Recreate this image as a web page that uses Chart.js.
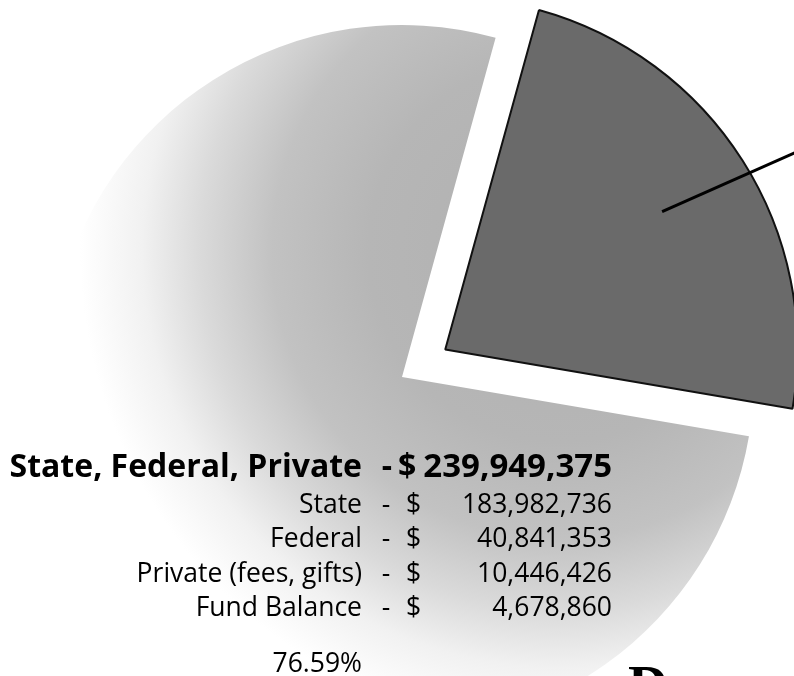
<!DOCTYPE html>
<html>
<head>
<meta charset="utf-8">
<title>Revenue sources</title>
<script src="https://cdn.jsdelivr.net/npm/chart.js@4.4.0/dist/chart.umd.min.js"></script>
<style>
  html, body { margin: 0; padding: 0; background: #fff; }
  #wrap { position: relative; width: 794px; height: 676px; overflow: hidden; }
</style>
</head>
<body>
<div id="wrap"><canvas id="revenuePie" width="794" height="676"></canvas></div>
<script>
// pie shares (percent)
var sliceLabels = ['State, Federal, Private', 'Other'];
var sliceShares = [76.59, 23.41];

// breakdown of the big slice
var sourceLabels = ['State', 'Federal', 'Private (fees, gifts)', 'Fund Balance'];
var sourceAmounts = [183982736, 40841353, 10446426, 4678860];

var sliceColors = ['#c0c0c0', '#6a6a6a'];

function money(n) {
  return n.toLocaleString('en-US');
}

// big slice is shaded from the upper right and fades to white at the far side
function sliceFill(context) {
  if (context.dataIndex !== 0) return sliceColors[1];
  var c = context.chart.ctx;
  var g = c.createRadialGradient(560, 250, 0, 560, 250, 480);
  g.addColorStop(0, '#b0b0b0');
  g.addColorStop(0.4, '#b6b6b6');
  g.addColorStop(0.6, '#c2c2c2');
  g.addColorStop(0.75, '#dadada');
  g.addColorStop(0.87, '#f1f1f1');
  g.addColorStop(1, '#ffffff');
  return g;
}

// line pointing from the pulled-out slice to its label further right
var leaderLine = {
  id: 'leaderLine',
  afterDatasetsDraw: function(chart) {
    var ctx = chart.ctx;
    var arc = chart.getDatasetMeta(0).data[1];
    var p = arc.getProps(['x', 'y', 'startAngle', 'endAngle', 'outerRadius']);
    var mid = (p.startAngle + p.endAngle) / 2;
    var shift = (arc.options.offset || 0) / 4;
    var cx = p.x + Math.cos(mid) * shift;
    var cy = p.y + Math.sin(mid) * shift;
    var sx = cx + Math.cos(mid) * p.outerRadius * 0.73;
    var sy = cy + Math.sin(mid) * p.outerRadius * 0.73;
    var out = mid + 8.5 * Math.PI / 180;
    ctx.save();
    ctx.strokeStyle = '#000';
    ctx.lineWidth = 3;
    ctx.beginPath();
    ctx.moveTo(sx, sy);
    ctx.lineTo(sx + Math.cos(out) * 220, sy + Math.sin(out) * 220);
    ctx.stroke();
    ctx.restore();
  }
};

// amounts table written over the pie
var amountsTable = {
  id: 'amountsTable',
  afterDraw: function(chart) {
    var ctx = chart.ctx;
    var total = sourceAmounts.reduce(function(a, b) { return a + b; }, 0);
    ctx.save();
    ctx.fillStyle = '#000';
    ctx.textBaseline = 'alphabetic';

    ctx.font = 'bold 32px "Open Sans"';
    ctx.textAlign = 'right';
    ctx.fillText(sliceLabels[0], 362, 477);
    ctx.textAlign = 'center';
    ctx.fillText('-', 387, 477);
    ctx.textAlign = 'left';
    ctx.fillText('$', 398, 477);
    ctx.font = 'bold 33px "Open Sans"';
    ctx.textAlign = 'right';
    ctx.fillText(money(total), 612, 477);

    ctx.font = '26.5px "Open Sans"';
    for (var i = 0; i < sourceLabels.length; i++) {
      var y = 513 + i * 34.3;
      ctx.textAlign = 'right';
      ctx.fillText(sourceLabels[i], 362, y);
      ctx.textAlign = 'center';
      ctx.fillText('-', 386, y);
      ctx.textAlign = 'left';
      ctx.fillText('$', 406, y);
      ctx.textAlign = 'right';
      ctx.fillText(money(sourceAmounts[i]), 612, y);
    }

    ctx.textAlign = 'right';
    ctx.fillText(sliceShares[0].toFixed(2) + '%', 362, 672);

    ctx.font = 'bold 56px "Liberation Serif"';
    ctx.textAlign = 'left';
    ctx.fillText('D', 628, 705);
    ctx.restore();
  }
};

new Chart(document.getElementById('revenuePie'), {
  type: 'pie',
  data: {
    labels: sliceLabels,
    datasets: [{
      data: sliceShares,
      backgroundColor: sliceFill,
      borderColor: ['rgba(0,0,0,0)', '#111'],
      borderWidth: [0, 2],
      offset: [0, 205],
      clip: false
    }]
  },
  options: {
    responsive: false,
    animation: false,
    events: [],
    rotation: 99.7,
    radius: 352,
    layout: { padding: { left: 10, right: 0, top: 78, bottom: 0 } },
    plugins: {
      legend: { display: false },
      tooltip: { enabled: false }
    }
  },
  plugins: [leaderLine, amountsTable]
});
</script>
</body>
</html>
